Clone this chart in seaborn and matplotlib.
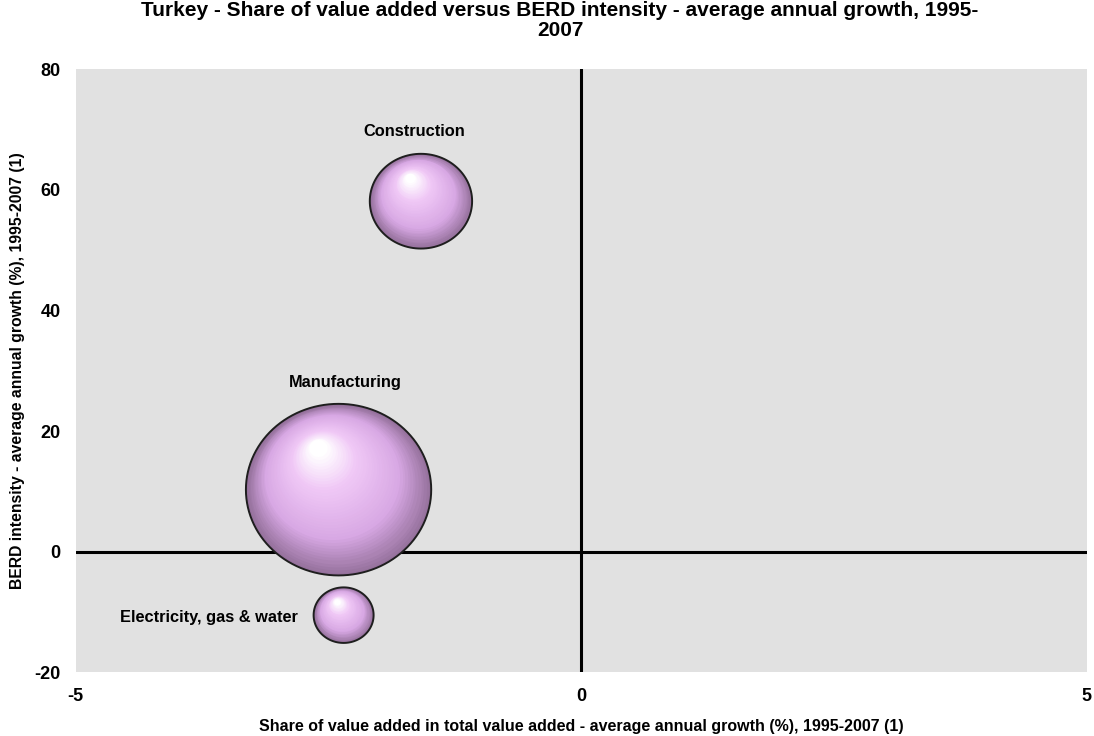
import numpy as np
import pandas as pd
import matplotlib
matplotlib.use("Agg")
import matplotlib.pyplot as plt
import seaborn as sns
from matplotlib.path import Path
from matplotlib.transforms import ScaledTranslation
from matplotlib.colors import to_rgb

# ---------------- data ----------------
sectors = ["Manufacturing", "Construction", "Electricity, gas & water"]
va_growth = [-2.40, -1.585, -2.35]          # x: share of value added growth (%)
berd_growth = [10.3, 58.1, -10.5]           # y: BERD intensity growth (%)
bubble_weight = [9.5, 2.9, 1.0]             # bubble size (relative area)
x_ticks = [-5, 0, 5]
y_ticks = [-20, 0, 20, 40, 60, 80]

title = ("Turkey - Share of value added versus BERD intensity - average annual growth, 1995-\n"
         "2007")
xlabel = "Share of value added in total value added - average annual growth (%), 1995-2007 (1)"
ylabel = "BERD intensity - average annual growth (%), 1995-2007 (1)"

# ---------------- style ----------------
sns.set_theme(style="white")
plt.rcParams["font.family"] = ["Liberation Sans", "DejaVu Sans"]
plt.rcParams["font.weight"] = "bold"

df = pd.DataFrame(dict(sector=sectors, x=va_growth, y=berd_growth, w=bubble_weight))

fig = plt.figure(figsize=(10.94, 7.36), dpi=100)
ax = fig.add_axes([0.0692, 0.0863, 0.9241, 0.8199])
ax.set_facecolor("#e1e1e1")
for sp in ax.spines.values():
    sp.set_visible(False)

ax.axhline(0, color="black", lw=2.2, zorder=1)
ax.axvline(0, color="black", lw=2.2, zorder=1)

ASPECT = 1.08
th = np.linspace(0, 2 * np.pi, 121)
ell = Path(np.column_stack([ASPECT * np.cos(th), np.sin(th)]), closed=True)

rim = "#94709b"
stops = [(0.0, to_rgb(rim)), (0.3, to_rgb("#d8a8e4")),
         (0.72, to_rgb("#f0c8f6")), (1.0, (1.0, 1.0, 1.0))]


def col(t):
    for (t0, c0), (t1, c1) in zip(stops[:-1], stops[1:]):
        if t <= t1:
            u = (t - t0) / (t1 - t0)
            return tuple(a + (b - a) * u for a, b in zip(c0, c1))
    return stops[-1][1]


sns.scatterplot(data=df, x="x", y="y", size="w", sizes=(1866, 17800),
                size_norm=(1.0, 9.5), marker=ell, color=rim, edgecolor="none",
                linewidth=0, legend=False, ax=ax, zorder=3)
sizes = ax.collections[-1].get_sizes()

N = 40
for xi, yi, si in zip(df["x"], df["y"], sizes):
    wpt = np.sqrt(si)
    hpt = wpt / ASPECT
    for k in range(1, N + 1):
        t = k / N
        f = 1 - 0.9 * t
        dx = -0.11 * wpt * t
        dy = 0.24 * hpt * t
        tr = ax.transData + ScaledTranslation(dx / 72, dy / 72, fig.dpi_scale_trans)
        ax.scatter([xi], [yi], s=si * f * f, marker=ell, color=col(t),
                   linewidths=0, transform=tr, zorder=3 + k * 0.01)

ax.scatter(df["x"], df["y"], s=sizes, marker=ell, facecolors="none",
           edgecolors="#1e1e1e", linewidths=1.4, zorder=5)

label_offsets = {"Manufacturing": ((4.7, 77), "center"),
                 "Construction": ((-5, 50), "center"),
                 "Electricity, gas & water": ((-33, -2), "right")}
for _, r in df.iterrows():
    off, ha = label_offsets[r["sector"]]
    ax.annotate(r["sector"], xy=(r["x"], r["y"]), xytext=off,
                textcoords="offset points", ha=ha, va="center",
                fontsize=11.8, fontweight="bold", color="black", zorder=6)

ax.set_xlim(-5, 5)
ax.set_ylim(-20, 80)
ax.set_xticks(x_ticks)
ax.set_yticks(y_ticks)
ax.set_xticklabels([str(v) for v in x_ticks])
ax.set_yticklabels([str(v) for v in y_ticks])
ax.tick_params(length=0, pad=11, labelsize=13, colors="black")
for lab in ax.get_xticklabels() + ax.get_yticklabels():
    lab.set_fontweight("bold")

ax.set_xlabel(xlabel, fontsize=11.5, fontweight="bold", color="black")
ax.set_ylabel(ylabel, fontsize=11.3, fontweight="bold", color="black")
ax.xaxis.set_label_coords(0.5, -0.0903)
ax.xaxis.label.set_va("center")
ax.yaxis.set_label_coords(-0.058, 0.5)
ax.yaxis.label.set_va("center")

fig.text(0.512, 1 - 1 / 736, title, ha="center", va="top", fontsize=15,
         fontweight="bold", linespacing=1.05, color="black")

fig.savefig("out.png", dpi=100)
